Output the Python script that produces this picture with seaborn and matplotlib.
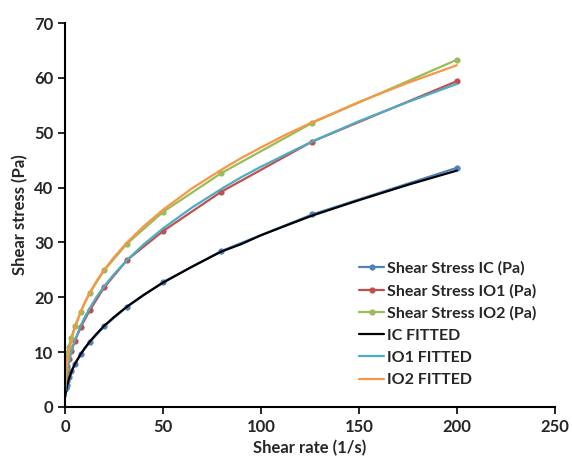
import numpy as np
import pandas as pd
import matplotlib
matplotlib.use("Agg")
import matplotlib.pyplot as plt
import seaborn as sns

# shear rates (1/s)
shear_rate = [200, 126.2, 79.6, 50.2, 31.7, 20.0, 12.6, 7.96, 5.02, 3.17, 2.0, 1.26, 0.796, 0.502, 0.317, 0.2]

# measured shear stress (Pa)
stress_ic = [43.6, 35.1, 28.4, 22.8, 18.3, 14.7, 11.8, 9.6, 7.9, 6.5, 5.5, 4.7, 4.1, 3.7, 3.4, 3.2]
stress_io1 = [59.4, 48.4, 39.2, 32.1, 26.8, 21.8, 17.6, 14.5, 12.0, 10.2, 8.7, 7.5, 6.5, 5.7, 5.0, 4.3]
stress_io2 = [63.3, 51.8, 42.6, 35.6, 29.8, 24.9, 20.8, 17.3, 14.7, 12.6, 11.0, 9.8, 8.8, 7.9, 7.0, 6.0]

# fitted curves
fit_rate = [200, 175, 150, 126.2, 113, 100, 90, 79.6, 65, 50.2, 40, 31.7, 25, 20.0, 16, 12.6, 10,
            7.96, 5.02, 3.17, 2.0, 1.26, 0.796, 0.502, 0.317, 0.2]
fit_ic = [43.1, 40.5, 37.7, 34.9, 33.1, 31.3, 29.7, 28.3, 25.6, 22.7, 20.4, 18.3, 16.4, 14.8, 13.3, 11.9, 10.7,
          9.6, 7.8, 6.3, 5.1, 4.2, 3.4, 2.8, 2.3, 1.9]
fit_io1 = [58.9, 55.6, 52.1, 48.4, 46.1, 43.8, 41.9, 39.7, 36.4, 32.6, 29.6, 26.8, 24.2, 22.0, 20.0, 18.0, 16.3,
           14.8, 12.1, 9.9, 8.2, 6.7, 5.5, 4.5, 3.7, 3.0]
fit_io2 = [62.3, 59.1, 55.6, 51.9, 49.7, 47.3, 45.4, 43.2, 39.9, 36.0, 32.9, 30.0, 27.3, 25.0, 22.9, 20.8, 19.0,
           17.3, 14.4, 12.0, 10.0, 8.4, 7.0, 5.8, 4.8, 4.0]

sns.set_style("ticks")
plt.rcParams['font.family'] = ['Lato', 'DejaVu Sans']

fig = plt.figure(figsize=(5.72, 4.67), dpi=100)
ax = fig.add_axes([0.1136, 0.1285, 0.8564, 0.8222])

measured = [("Shear Stress IC (Pa)", stress_ic, "#4F81BD"),
            ("Shear Stress IO1 (Pa)", stress_io1, "#C0504D"),
            ("Shear Stress IO2 (Pa)", stress_io2, "#9BBB59")]
for name, vals, col in measured:
    sns.lineplot(x=shear_rate, y=vals, ax=ax, color=col, marker='o', markersize=4.5,
                 markeredgewidth=0, linewidth=1.6, label=name)

fitted = [("IC FITTED", fit_ic, "black"),
          ("IO1 FITTED", fit_io1, "#4BACC6"),
          ("IO2 FITTED", fit_io2, "#F79646")]
for name, vals, col in fitted:
    sns.lineplot(x=fit_rate, y=vals, ax=ax, color=col, linewidth=1.6, label=name)

ax.set_xlim(0, 250)
ax.set_ylim(0, 70)
ax.set_xticks(range(0, 251, 50))
ax.set_yticks(range(0, 71, 10))
ax.set_xlabel("Shear rate (1/s)", fontsize=12, fontweight='bold', color='#262626')
ax.set_ylabel("Shear stress (Pa)", fontsize=12, fontweight='bold', color='#262626')
ax.tick_params(axis='both', labelsize=12, colors='black', length=5, width=1.2, direction='out')
for lab in ax.get_xticklabels() + ax.get_yticklabels():
    lab.set_fontweight('bold')
    lab.set_color('#262626')
for s in ['left', 'bottom']:
    ax.spines[s].set_linewidth(1.5)
    ax.spines[s].set_color('black')
sns.despine(ax=ax)

leg = ax.legend(loc='lower right', bbox_to_anchor=(0.975, 0.035), frameon=False,
                prop={'weight': 'bold', 'size': 11.5}, handlelength=1.6,
                handletextpad=0.15, labelspacing=0.5, borderaxespad=0)
for t in leg.get_texts():
    t.set_color('#262626')

fig.savefig("out.png", dpi=100)
